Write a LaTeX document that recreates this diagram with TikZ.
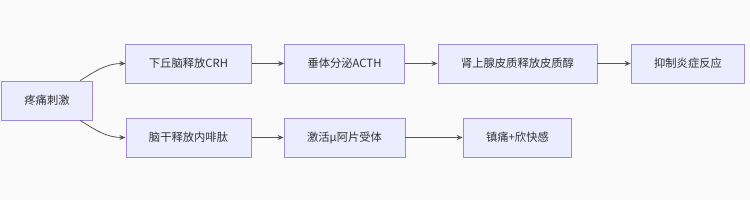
\documentclass[tikz,border=0pt]{standalone}
\usepackage{fontspec}
\newfontfamily\cjk{Noto Sans CJK SC}
\usepackage{tikz}
\usetikzlibrary{
    positioning,
    arrows.meta
}
\definecolor{bgcol}{HTML}{FAFAFA}
\definecolor{boxfill}{HTML}{ECECFF}
\definecolor{boxline}{HTML}{A08AE0}
\definecolor{linecol}{HTML}{555555}
\tikzset{
    >={Stealth[length=6pt,width=5pt]},
    box/.style={
        draw=boxline,
        fill=boxfill,
        line width=0.9pt,
        minimum height=39pt,
        inner xsep=23pt,
        font=\cjk\fontsize{11.3pt}{13pt}\selectfont,
        text=black!80
    },
    flow/.style={
        ->,
        draw=linecol,
        line width=0.8pt
    }
}
\begin{document}
\begin{tikzpicture}[
    on grid,
    node distance=37pt and 141.5pt
]

    \fill[bgcol] (0,0) rectangle (750pt,200pt);
    \useasboundingbox (0,0) rectangle (750pt,200pt);

    % Knoten
    \node[box] (pain) at (47pt,99.5pt) {疼痛刺激};
    \node[box] (crh) [above right=of pain] {下丘脑释放CRH};
    \node[box] (acth) [right=156pt of crh] {垂体分泌ACTH};
    \node[box] (cort) [right=173pt of acth] {肾上腺皮质释放皮质醇};
    \node[box] (inhib) [right=170.5pt of cort] {抑制炎症反应};
    \node[box] (endo) [below right=of pain] {脑干释放内啡肽};
    \node[box] (mu) [right=156pt of endo] {激活μ阿片受体};
    \node[box] (joy) [right=173pt of mu] {镇痛+欣快感};

    % Pfeile
    \draw[flow] (pain.31) to[out=32,in=180] (crh.west);
    \draw[flow] (pain.-31) to[out=-32,in=180] (endo.west);
    \draw[flow] (crh) -- (acth);
    \draw[flow] (acth) -- (cort);
    \draw[flow] (cort) -- (inhib);
    \draw[flow] (endo) -- (mu);
    \draw[flow] (mu) -- (joy);

\end{tikzpicture}
\end{document}
